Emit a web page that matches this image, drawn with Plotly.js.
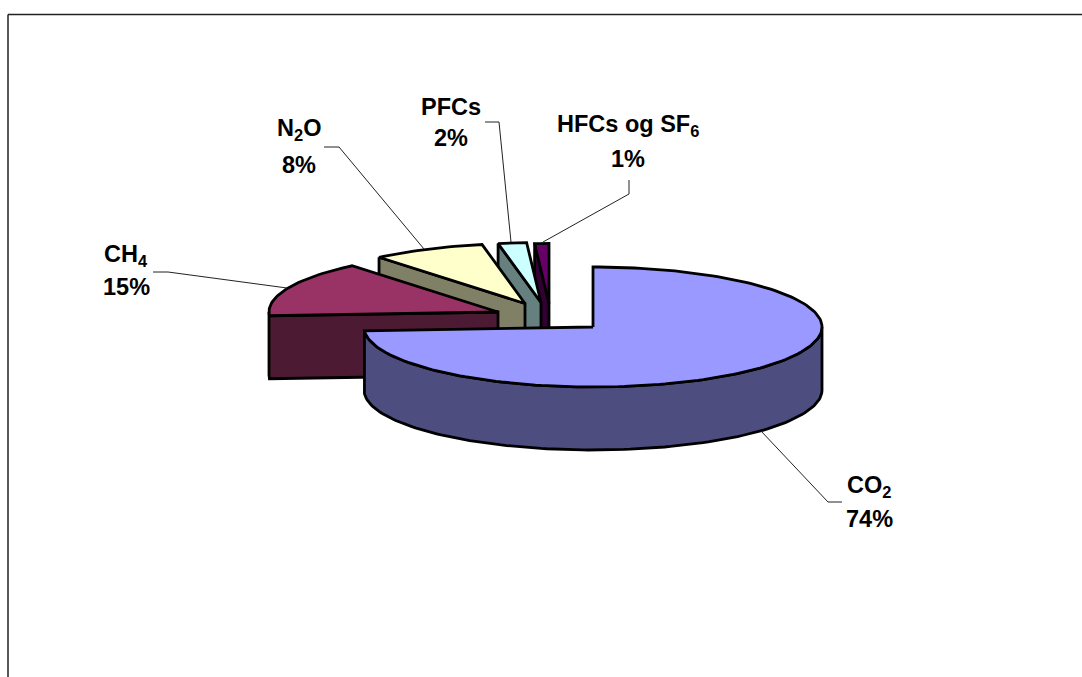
<!DOCTYPE html>
<html>
<head>
<meta charset="utf-8">
<script src="https://cdn.plot.ly/plotly-3.0.1.min.js"></script>
<style>
  html, body { margin: 0; padding: 0; background: #fff; overflow: hidden; }
  #chart { width: 1082px; height: 677px; }
  .scatterlayer .js-line { stroke-linejoin: miter !important; }
</style>
</head>
<body>
<div id="chart"></div>
<script>
// Greenhouse gas shares, in percent
const categories = ["CO<sub>2</sub>", "CH<sub>4</sub>", "N<sub>2</sub>O", "PFCs", "HFCs og SF<sub>6</sub>"];
const shares = [74, 15, 8, 2, 1];

// Slice colours: top face and side wall
const topColors = ["#9999FF", "#993366", "#FFFFCC", "#CCFFFF", "#660066"];
const wallColors = ["#4D4D80", "#4D1A33", "#808066", "#668080", "#330033"];

// Tilted pie geometry in plot units: ellipse radii, wall height, exploded slice centres
const RX = 229, RY = 60, DEPTH = 63;
const centerX = [593, 498, 525, 541, 549];
const centerY = [327, 312, 303.5, 302.5, 303.5];

// Label placement and leader lines
const nameX = [869, 126, 299, 451, 628];
const nameY = [486, 255, 129, 107, 125];
const valueY = [519, 287, 165, 138, 159];
const leaderX = [[842, 828, 761], [153, 168, 287], [324, 339, 424], [485, 499, 511], [629, 629, 543]];
const leaderY = [[502, 502, 431], [272, 272, 288], [147, 147, 249], [122, 122, 242], [180, 194, 242]];

const OUTLINE = { color: "#000", width: 2.8 };

// Point on a slice's rim; the angle runs clockwise from twelve o'clock
function rim(i, deg, drop) {
  const a = deg * Math.PI / 180;
  return [centerX[i] + RX * Math.sin(a), centerY[i] - RY * Math.cos(a) + (drop || 0)];
}

function arc(i, from, to, drop) {
  const n = Math.max(2, Math.ceil(Math.abs(to - from) / 1.5));
  const pts = [];
  for (let k = 0; k <= n; k++) pts.push(rim(i, from + (to - from) * k / n, drop));
  return pts;
}

function polygon(pts, fill) {
  return {
    type: "scatter", mode: "lines",
    x: pts.map(p => p[0]), y: pts.map(p => p[1]),
    fill: "toself", fillcolor: fill, line: OUTLINE,
    hoverinfo: "skip", showlegend: false
  };
}

// Slice angles from the shares
const total = shares.reduce((s, v) => s + v, 0);
const starts = [];
let running = 0;
shares.forEach(v => { starts.push(running); running += v / total * 360; });

const traces = [];

// Painted back to front: smallest slice first, the large front slice last
for (let i = shares.length - 1; i >= 0; i--) {
  const start = starts[i];
  const end = start + shares[i] / total * 360;
  const apex = [centerX[i], centerY[i]];
  let wall;
  if (i === 0) {
    // Curved outer wall of the front slice
    const upper = arc(i, 90, end, 0);
    const lower = arc(i, end, 90, DEPTH);
    wall = upper.concat(lower);
    wall.push(upper[0]);
  } else {
    // Cut face along the leading edge, plus any rim still facing the viewer
    const upper = start < 270 ? arc(i, 270, start, 0) : [rim(i, start, 0)];
    const lower = upper.slice().reverse().map(p => [p[0], p[1] + DEPTH]);
    wall = upper.concat([apex, [apex[0], apex[1] + DEPTH]], lower);
    wall.push(upper[0]);
  }
  traces.push(polygon(wall, wallColors[i]));

  const face = [apex].concat(arc(i, start, end, 0), [apex]);
  traces.push(polygon(face, topColors[i]));
}

// Leader lines from the labels to their slices
categories.forEach((_, i) => {
  traces.push({
    type: "scatter", mode: "lines", x: leaderX[i], y: leaderY[i],
    line: { color: "#222", width: 1 }, hoverinfo: "skip", showlegend: false
  });
});

const labelFont = { family: "Liberation Sans, Arial, sans-serif", size: 23.5, color: "#000", weight: 700 };
const annotations = [];
categories.forEach((name, i) => {
  annotations.push({ x: nameX[i], y: nameY[i], text: name, showarrow: false, font: labelFont, xanchor: "center", yanchor: "middle" });
  annotations.push({ x: nameX[i], y: valueY[i], text: shares[i] + "%", showarrow: false, font: labelFont, xanchor: "center", yanchor: "middle" });
});

const hiddenAxis = { visible: false, fixedrange: true, showgrid: false, zeroline: false };

const layout = {
  width: 1082, height: 677,
  margin: { l: 0, r: 0, t: 0, b: 0 },
  paper_bgcolor: "#fff", plot_bgcolor: "#fff",
  showlegend: false,
  xaxis: Object.assign({ range: [0, 1082] }, hiddenAxis),
  yaxis: Object.assign({ range: [677, 0] }, hiddenAxis),
  annotations,
  // Chart frame: only its top and left edges fall inside the page
  shapes: [
    { type: "line", xref: "x", yref: "y", x0: 8, y0: 14.5, x1: 1082, y1: 14.5, line: { color: "#222", width: 1.5 } },
    { type: "line", xref: "x", yref: "y", x0: 8, y0: 14.5, x1: 8, y1: 677, line: { color: "#222", width: 1.5 } }
  ]
};

Plotly.newPlot("chart", traces, layout, { displayModeBar: false, staticPlot: true });
</script>
</body>
</html>
